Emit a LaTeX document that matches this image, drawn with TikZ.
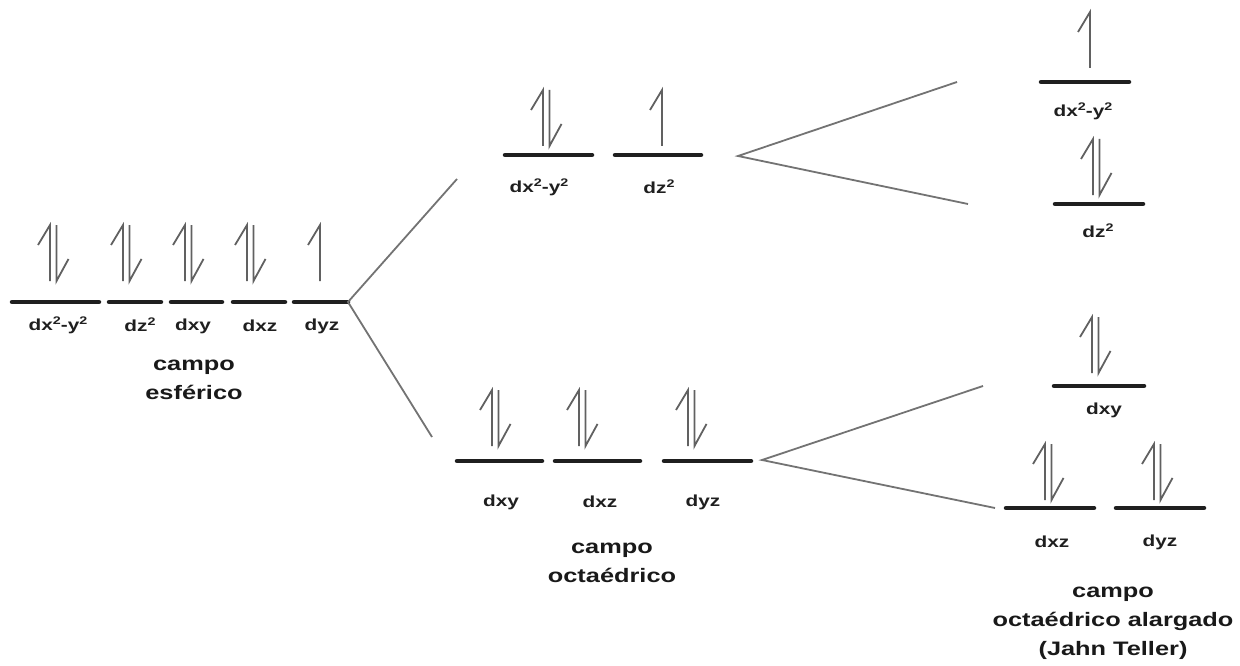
\documentclass[tikz,border=0pt]{standalone}
\usepackage{fontspec}
\newfontfamily\labfont{Liberation Sans}[FakeStretch=1.3]
% raised square exponent for orbital names
\newcommand{\sqx}{\raisebox{0.36em}{\fontsize{11}{11}\selectfont 2}}
\begin{document}
\begin{tikzpicture}[x=1pt,y=-1pt,
  level/.style={line width=4.5pt,color=black!88,line cap=round},
  split/.style={line width=1.8pt,color=black!55},
  spin/.style={line width=1.8pt,color=black!62},
  orb/.style={font=\labfont\bfseries\fontsize{16}{18}\selectfont,text=black!88,inner sep=0pt},
  field/.style={font=\labfont\bfseries\fontsize{19.5}{29}\selectfont,text=black!90,align=center,inner sep=0pt},
  spinup/.pic={\draw[spin,line join=miter] (-12,-36) -- (0,-56) -- (0,0);},
  spindown/.pic={\draw[spin,line join=miter] (0,-56) -- (0,0) -- (12,-22);},
  pairspin/.pic={\pic at (0,0) {spinup}; \pic at (6.5,0) {spindown};}
]
\useasboundingbox (0,0) rectangle (1240,666);

% ---------- spherical field ----------
\coordinate (s1a) at (12,302);  \coordinate (s1b) at (99,302);
\coordinate (s2a) at (109,302); \coordinate (s2b) at (161,302);
\coordinate (s3a) at (171,302); \coordinate (s3b) at (222,302);
\coordinate (s4a) at (233,302); \coordinate (s4b) at (285,302);
\coordinate (s5a) at (294,302); \coordinate (s5b) at (348,302);
\foreach \i in {1,...,5} \draw[level] (s\i a) -- (s\i b);
\pic at (50,281) {pairspin};
\pic at (123,281) {pairspin};
\pic at (185,281) {pairspin};
\pic at (247,281) {pairspin};
\pic at (320,281) {spinup};
\node[orb] (ls1) at (58,325) {dx\sqx-y\sqx};
\node[orb] (ls2) at (140,325) {dz\sqx};
\node[orb] (ls3) at (193,326) {dxy};
\node[orb] (ls4) at (260,326) {dxz};
\node[orb] (ls5) at (322,326) {dyz};
\node[field] (fs) at (194,380) {campo\\esférico};

% ---------- octahedral field ----------
\coordinate (eg1a) at (505,155); \coordinate (eg1b) at (592,155);
\coordinate (eg2a) at (615,155); \coordinate (eg2b) at (701,155);
\coordinate (t1a) at (457,461); \coordinate (t1b) at (542,461);
\coordinate (t2a) at (555,461); \coordinate (t2b) at (640,461);
\coordinate (t3a) at (664,461); \coordinate (t3b) at (751,461);
\foreach \n in {eg1,eg2,t1,t2,t3} \draw[level] (\n a) -- (\n b);
\pic at (543,146) {pairspin};
\pic at (662,146) {spinup};
\pic at (492,446) {pairspin};
\pic at (579,446) {pairspin};
\pic at (688,446) {pairspin};
\node[orb] (leg1) at (539,187) {dx\sqx-y\sqx};
\node[orb] (leg2) at (659,187) {dz\sqx};
\node[orb] (lt1) at (501,502) {dxy};
\node[orb] (lt2) at (600,502) {dxz};
\node[orb] (lt3) at (703,502) {dyz};
\node[field] (fo) at (612,563) {campo\\octaédrico};

% ---------- elongated octahedral field (Jahn Teller) ----------
\coordinate (j1a) at (1041,82);  \coordinate (j1b) at (1129,82);
\coordinate (j2a) at (1055,204); \coordinate (j2b) at (1143,204);
\coordinate (j3a) at (1054,386); \coordinate (j3b) at (1144,386);
\coordinate (j4a) at (1006,508); \coordinate (j4b) at (1094,508);
\coordinate (j5a) at (1116,508); \coordinate (j5b) at (1204,508);
\foreach \i in {1,...,5} \draw[level] (j\i a) -- (j\i b);
\pic at (1090,68) {spinup};
\pic at (1093,195) {pairspin};
\pic at (1092,373) {pairspin};
\pic at (1045,500) {pairspin};
\pic at (1154,500) {pairspin};
\node[orb] (lj1) at (1083,111) {dx\sqx-y\sqx};
\node[orb] (lj2) at (1098,231) {dz\sqx};
\node[orb] (lj3) at (1104,410) {dxy};
\node[orb] (lj4) at (1052,542) {dxz};
\node[orb] (lj5) at (1160,542) {dyz};
\node[field] (fj) at (1113,623) {campo\\octaédrico alargado\\(Jahn Teller)};

% ---------- splitting lines ----------
\coordinate (egend) at (457,179);
\coordinate (t2gend) at (432,437);
\coordinate (egv) at (738,156);
\coordinate (egup) at (957,82);
\coordinate (egdn) at (968,204);
\coordinate (t2gv) at (762,460);
\coordinate (t2gup) at (983,386);
\coordinate (t2gdn) at (995,508);
\draw[split] (egend) -- (s5b) -- (t2gend);
\draw[split] (egup) -- (egv) -- (egdn);
\draw[split] (t2gup) -- (t2gv) -- (t2gdn);
\end{tikzpicture}
\end{document}
